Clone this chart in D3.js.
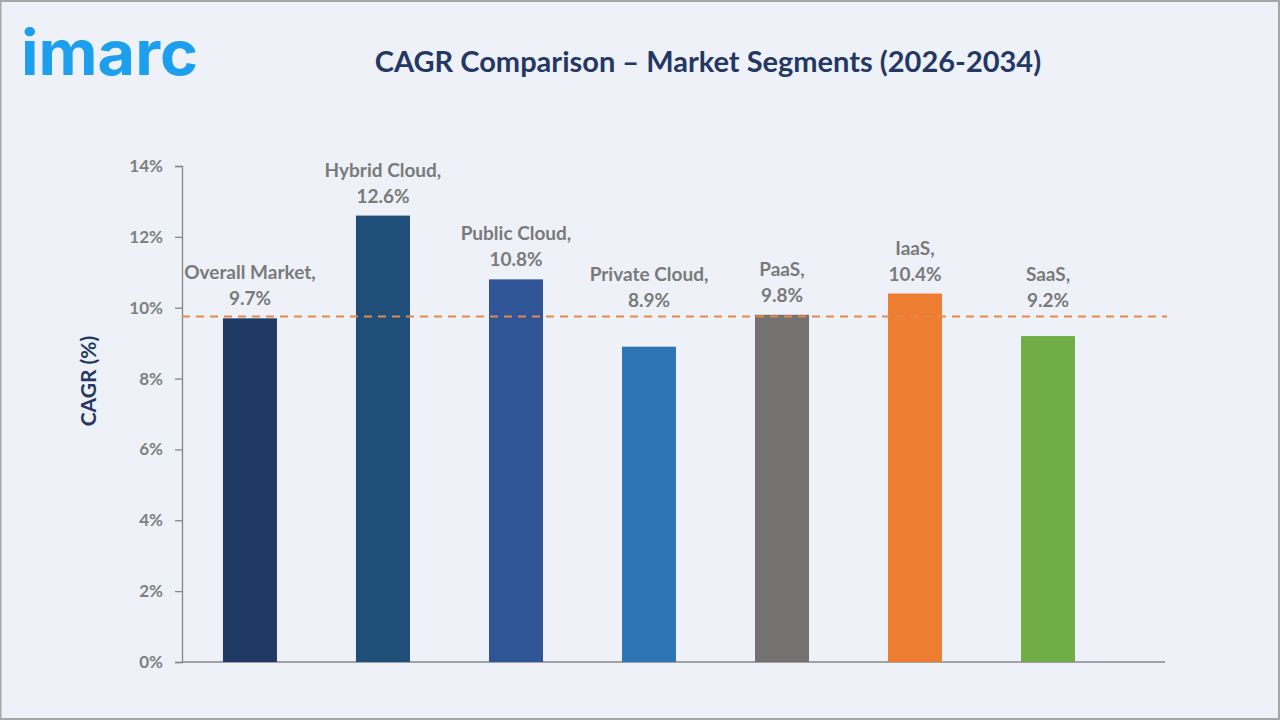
<!DOCTYPE html>
<html><head><meta charset="utf-8">
<script src="https://cdn.jsdelivr.net/npm/d3@7"></script>
<style>
html,body{margin:0;padding:0;background:#eef2f8;}
svg{display:block;}
</style></head>
<body>
<svg id="chart" width="1280" height="720"></svg>
<script>
const categories = ["Overall Market", "Hybrid Cloud", "Public Cloud", "Private Cloud", "PaaS", "IaaS", "SaaS"];
const values = [9.7, 12.6, 10.8, 8.9, 9.8, 10.4, 9.2];
const colors = ["#1f3864", "#1f4e79", "#2f5597", "#2e75b6", "#767171", "#ed7d31", "#70ad47"];
const yTicks = [0, 2, 4, 6, 8, 10, 12, 14];
const referenceValue = 9.75;

const svg = d3.select("#chart");
const W = 1280, H = 720;
const font = "Lato, 'Open Sans', sans-serif";

svg.append("rect").attr("x", 0.5).attr("y", 1).attr("width", W - 1.5).attr("height", H - 2)
  .attr("fill", "#eef2f8").attr("stroke", "#a6a6a6").attr("stroke-width", 2);

// logo
svg.append("text").attr("x", 21).attr("y", 75).text("imarc")
  .attr("font-family", "Inter, 'Open Sans', sans-serif").attr("font-weight", 700)
  .attr("font-size", 62).attr("fill", "#1ca0ee")
  .attr("textLength", 177).attr("lengthAdjust", "spacingAndGlyphs");

// title
svg.append("text").attr("x", 708).attr("y", 72).attr("text-anchor", "middle")
  .text("CAGR Comparison \u2013 Market Segments (2026-2034)")
  .attr("font-family", font).attr("font-weight", 700).attr("font-size", 29).attr("fill", "#253863");

const x0 = 182, x1 = 1165, yTop = 166, yBot = 662;
const y = d3.scaleLinear().domain([0, 14]).range([yBot, yTop]);
const x = d3.scaleBand().domain(categories).range([182, 1116]).paddingInner(0.594).paddingOuter(0.308);

// y axis
const yAxis = d3.axisLeft(y).tickValues(yTicks).tickFormat(d => d + "%").tickSize(7).tickPadding(12);
const ga = svg.append("g").attr("transform", `translate(${x0},0)`).call(yAxis);
ga.select(".domain").attr("stroke", "#868686").attr("stroke-width", 1.3);
ga.selectAll(".tick line").attr("stroke", "#868686").attr("stroke-width", 1.3);
ga.selectAll(".tick text").attr("font-family", font).attr("font-weight", 700)
  .attr("font-size", 17).attr("fill", "#7f7f7f");

// x baseline
svg.append("line").attr("x1", x0).attr("x2", x1).attr("y1", y(0)).attr("y2", y(0))
  .attr("stroke", "#868686").attr("stroke-width", 1.3);

// y title
svg.append("text").attr("transform", `translate(96,${(yTop + yBot) / 2 - 33}) rotate(-90)`)
  .attr("text-anchor", "middle").text("CAGR (%)")
  .attr("font-family", font).attr("font-weight", 700).attr("font-size", 21).attr("fill", "#253863");

// bars
svg.selectAll(".bar").data(categories).join("rect").attr("class", "bar")
  .attr("x", d => x(d)).attr("width", x.bandwidth())
  .attr("y", (d, i) => y(values[i])).attr("height", (d, i) => y(0) - y(values[i]))
  .attr("fill", (d, i) => colors[i]);

// reference dashed line
svg.append("line").attr("x1", x0).attr("x2", 1167).attr("y1", y(referenceValue)).attr("y2", y(referenceValue))
  .attr("stroke", "#e08a4e").attr("stroke-width", 2).attr("stroke-dasharray", "8,6");

// labels (kept above the reference line)
const anchor = i => Math.min(y(values[i]), y(referenceValue) + 3);
const lbl = svg.selectAll(".lbl").data(categories).join("g").attr("class", "lbl");
lbl.append("text").attr("x", d => x(d) + x.bandwidth() / 2).attr("y", (d, i) => anchor(i) - 39)
  .attr("text-anchor", "middle").text(d => d + ",")
  .attr("font-family", font).attr("font-weight", 700).attr("font-size", 19).attr("fill", "#7a7a7a");
lbl.append("text").attr("x", d => x(d) + x.bandwidth() / 2).attr("y", (d, i) => anchor(i) - 13)
  .attr("text-anchor", "middle").text((d, i) => values[i].toFixed(1) + "%")
  .attr("font-family", font).attr("font-weight", 700).attr("font-size", 19).attr("fill", "#7a7a7a");
</script>
</body></html>
